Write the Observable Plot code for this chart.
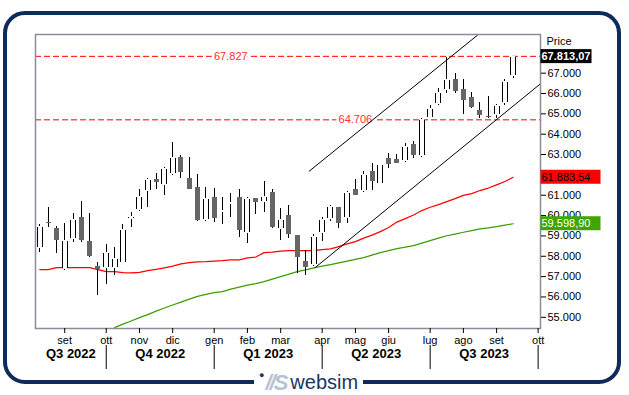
<!DOCTYPE html>
<html><head><meta charset="utf-8">
<script src="https://cdn.jsdelivr.net/npm/d3@7"></script>
<script src="https://cdn.jsdelivr.net/npm/@observablehq/plot@0.6"></script>
<style>
html,body{margin:0;padding:0;background:#fff;}
#wrap{position:relative;width:629px;height:395px;overflow:hidden;font-family:"Liberation Sans",Arial,sans-serif;}
#chart{position:absolute;left:0;top:0;}
#frame{position:absolute;left:3px;top:11px;width:610px;height:365px;border:4px solid #0f2b5b;border-radius:22px;pointer-events:none;}
#logo{position:absolute;left:254px;top:370px;height:25px;padding:0 5px;background:#fff;display:flex;align-items:center;white-space:nowrap;}
#logo .dot{color:#1c3562;font-size:9px;position:relative;top:-8px;margin-right:1px;}
#logo .mark{color:#b7c3d3;font-style:italic;font-weight:bold;font-size:22px;letter-spacing:-2px;margin-right:4px;}
#logo .name{color:#1c3562;font-size:20px;}
</style></head>
<body>
<div id="wrap">
  <div id="chart"></div>
  <div id="frame"></div>
  <div id="logo"><span class="dot">●</span><span class="mark">//S</span><span class="name">websim</span></div>
</div>
<script>
// ---- data (weekly candles, Fridays from 2022-08-12) ----
const firstWeek = "2022-08-12";
const opens  = [58392,59641,59361,57329,58805,59887,58706,57491,57378,57378,57654,59789,60231,61166,61771,61461,62017,62839,61786,61363,59754,60886,60133,60527,60871,59100,60822,60625,61117,59297,59985,59016,57737,57526,59100,59803,60379,59838,61264,61166,62150,61525,62789,62755,62642,63478,62917,64786,65460,66149,66641,66149,65790,65150,64845,64904,65495,66838];
const highs  = [59543,60394,59459,59607,60099,60689,60084,57688,58559,58426,59543,60148,61294,61820,62066,62376,63606,62937,62853,62002,61378,61328,60886,61082,61264,60871,60840,61673,61264,60330,60477,59030,58278,59051,59917,60492,60379,61181,61771,62150,62543,62510,63035,62986,63527,63626,64786,65411,66233,67758,66970,66675,66065,65573,65854,65460,66675,67813.07];
const lows   = [58195,59410,58146,57300,58687,58657,57934,56080,56621,57049,57624,59425,60200,60409,61294,60984,61953,61835,61264,59720,59700,59641,59572,59917,58933,58638,60035,60163,59346,58756,58854,57132,57034,57500,58721,59720,59376,59592,60984,61146,61215,61510,62297,62573,62593,62789,62839,64786,65411,66016,65987,64954,65249,64757,64757,64757,65411,66725];
const closes = [59459,59620,58805,58756,59789,58805,58033,57359,58165,57885,59297,59951,60920,61756,61658,62297,62839,62130,61314,59803,60836,59867,60231,60625,59297,60822,60674,60950,59425,59789,59100,57949,57457,58952,59789,60428,59641,61117,61018,62002,61687,62494,62524,62573,63380,62986,64708,65249,66036,66675,66134,65692,65328,64954,64825,65396,66592,67813.07];
const redMA  = [57344,57344,57442,57442,57442,57442,57442,57344,57246,57246,57196,57182,57211,57295,57359,57428,57516,57624,57688,57723,57737,57762,57786,57821,57821,57919,57960,58180,58200,58254,58278,58278,58278,58278,58328,58362,58475,58608,58721,58893,59041,59213,59410,59680,59852,60025,60246,60408,60541,60689,60836,60994,61082,61230,61353,61510,61673,61883.54];
const greenStart = 9; // green average begins at the 10th week
const greenMA = [54491,54663,54820,54983,55130,55303,55460,55607,55745,55893,56031,56124,56213,56262,56385,56483,56582,56655,56754,56877,57000,57123,57246,57329,57427,57516,57590,57673,57762,57851,57934,58057,58180,58278,58377,58451,58524,58647,58770,58893,59007,59090,59179,59262,59346,59395,59459,59533,59598.90];
const levels = [67827, 64706];
const levelLabelDates = ["2023-01-20", "2023-05-05"];
const upperChannel = [["2023-03-27", 62180], ["2023-08-16", 68870]];
const lowerChannel = [["2023-04-01", 57440], ["2023-10-08", 66480]];
const yTicks = [55000,56000,57000,58000,59000,60000,61000,62000,63000,64000,65000,66000,67000];
const monthTicks  = ["2022-09-02","2022-10-07","2022-11-04","2022-12-02","2023-01-06","2023-02-03","2023-03-03","2023-04-07","2023-05-05","2023-06-02","2023-07-07","2023-08-04","2023-09-01","2023-10-06"];
const monthLabels = ["set","ott","nov","dic","gen","feb","mar","apr","mag","giu","lug","ago","set","ott"];
const xDomain = ["2022-08-08T09:00:00Z", "2023-10-08T00:00:00Z"];
const quarterBounds = ["2022-08-08T09:00:00Z","2022-10-07","2023-01-06","2023-04-07","2023-07-07","2023-10-06"];
const quarterLabels = ["Q3 2022","Q4 2022","Q1 2023","Q2 2023","Q3 2023"];
const lastValues = [closes[closes.length-1], redMA[redMA.length-1], greenMA[greenMA.length-1]];
const lastBoxColors = [["#000000","#ffffff","bold",51],["#ff0000","#000000","normal",60],["#3fa600","#ffffff","normal",60]];

// ---- build tables ----
const D = s => new Date(s);
const DAY = 864e5;
const weeks = opens.map((_, i) => new Date(+D(firstWeek) + i * 7 * DAY));
const candles = opens.map((o, i) => ({date: weeks[i], open: o, high: highs[i], low: lows[i], close: closes[i]}));
const upC = candles.filter(d => d.close >= d.open);
const downC = candles.filter(d => d.close < d.open);
const redS = redMA.map((v, i) => ({date: weeks[i], v}));
const greenS = greenMA.map((v, i) => ({date: weeks[i + greenStart], v}));
const chan = c => c.map(([d, v]) => ({date: D(d), v}));
const mT = monthTicks.map(D);
const qB = quarterBounds.map(D);
const qMid = quarterLabels.map((l, i) => ({label: l, date: new Date((+qB[i] + +qB[i+1]) / 2)}));
const dotFmt = v => d3.format(",")(v).replace(/,/g, ".");
const euFmt = v => d3.format(",.2f")(v).replace(/,/g, "#").replace(".", ",").replace(/#/g, ".");

const chart = Plot.plot({
  width: 629, height: 395,
  marginLeft: 35, marginRight: 89, marginTop: 34, marginBottom: 67,
  style: {fontFamily: "'Liberation Sans', Arial, sans-serif", fontSize: "11px", background: "transparent", color: "#000"},
  x: {type: "utc", domain: xDomain.map(D), label: null},
  y: {domain: [54450, 68900], label: null},
  marks: [
    Plot.ruleY(levels, {stroke: "#ff0000", strokeWidth: 1, strokeDasharray: "6,3"}),
    Plot.text(levels, {x: levelLabelDates.map(D), y: d => d, text: d => dotFmt(d), fill: "#ff3030", stroke: "white", strokeWidth: 5, fontSize: 11}),
    Plot.line(redS, {x: "date", y: "v", stroke: "#ff0000", strokeWidth: 1.2, clip: true}),
    Plot.line(greenS, {x: "date", y: "v", stroke: "#3a9e00", strokeWidth: 1.2, clip: true}),
    Plot.line(chan(upperChannel), {x: "date", y: "v", stroke: "#000", strokeWidth: 1, clip: true}),
    Plot.line(chan(lowerChannel), {x: "date", y: "v", stroke: "#000", strokeWidth: 1, clip: true}),
    Plot.ruleX(candles, {x: "date", y1: "low", y2: "high", stroke: "#000", strokeWidth: 1, shapeRendering: "crispEdges"}),
    Plot.ruleX(downC, {x: "date", y1: "open", y2: "close", stroke: "#666666", strokeWidth: 5, insetTop: -0.5, insetBottom: -0.5, shapeRendering: "crispEdges"}),
    Plot.ruleX(upC, {x: "date", y1: "open", y2: "close", stroke: "#000", strokeWidth: 6, insetTop: -1, insetBottom: -1, shapeRendering: "crispEdges"}),
    Plot.ruleX(upC, {x: "date", y1: "open", y2: "close", stroke: "#fff", strokeWidth: 4, shapeRendering: "crispEdges"}),
    Plot.frame({stroke: "#8c8c9c", strokeWidth: 1.5}),
    Plot.axisY({anchor: "right", ticks: yTicks, tickFormat: dotFmt, tickSize: 5, tickPadding: 2, fontSize: 11, label: null}),
    Plot.axisX({ticks: mT, tickFormat: d => monthLabels[mT.findIndex(t => +t === +d)], tickSize: 5, tickPadding: 3, fontSize: 11, label: null}),
    Plot.axisX({ticks: qB.slice(1), tickFormat: () => "", tickSize: 24, dy: 17, label: null}),
    Plot.text(qMid, {x: "date", text: "label", frameAnchor: "bottom", dy: 29, fontWeight: "bold", fontSize: 13}),
    Plot.text(["Price"], {frameAnchor: "top-right", textAnchor: "start", dx: 6, dy: 3, fontSize: 11})
  ]
});
document.getElementById("chart").appendChild(chart);

// value boxes on the price axis, positioned with the plot's own scales
const ys = chart.scale("y"), xs = chart.scale("x");
const x0 = xs.range[1];
const g = d3.select(chart).append("g").attr("text-anchor", "start");
lastValues.forEach((v, i) => {
  const [bg, fg, fw, w] = lastBoxColors[i];
  const y = ys.apply(v);
  g.append("rect").attr("x", x0 + 0.5).attr("y", y - 7).attr("width", w).attr("height", 14).attr("fill", bg);
  g.append("text").attr("x", x0 + 1.5).attr("y", y).attr("dy", "0.35em").attr("fill", fg).attr("text-anchor", "start")
    .attr("font-weight", fw).attr("font-size", 11).attr("font-family", "'Liberation Sans', Arial, sans-serif").text(euFmt(v));
});
</script>
</body></html>
